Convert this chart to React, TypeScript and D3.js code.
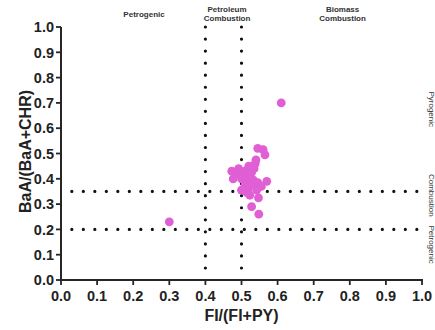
import React from "react";
import * as d3 from "d3";

const xTicks = [0, 0.1, 0.2, 0.3, 0.4, 0.5, 0.6, 0.7, 0.8, 0.9, 1.0];
const yTicks = [0, 0.1, 0.2, 0.3, 0.4, 0.5, 0.6, 0.7, 0.8, 0.9, 1.0];
const hLines = [0.2, 0.35];
const vLines = [0.4, 0.5];
const xFI = [0.30, 0.61, 0.545, 0.56, 0.565, 0.54, 0.538, 0.473, 0.492, 0.51, 0.528, 0.477, 0.50, 0.518, 0.533, 0.57, 0.51, 0.528, 0.50, 0.518, 0.542, 0.523, 0.547, 0.528, 0.548, 0.49, 0.52, 0.535, 0.505, 0.555, 0.545, 0.515];
const yBaA = [0.23, 0.70, 0.52, 0.515, 0.495, 0.475, 0.46, 0.43, 0.44, 0.43, 0.425, 0.40, 0.40, 0.40, 0.395, 0.39, 0.375, 0.375, 0.355, 0.355, 0.355, 0.335, 0.325, 0.29, 0.26, 0.42, 0.45, 0.44, 0.415, 0.37, 0.385, 0.345];
const topLabels = [
  { x: 0.23, lines: ["Petrogenic"] },
  { x: 0.46, lines: ["Petroleum", "Combustion"] },
  { x: 0.78, lines: ["Biomass", "Combustion"] },
];
const rightLabels = [
  { y: 0.675, text: "Pyrogenic" },
  { y: 0.335, text: "Combustion" },
  { y: 0.14, text: "Petrogenic" },
];

const W = 435, H = 330;
const x = d3.scaleLinear().domain([0, 1]).range([61, 422]);
const y = d3.scaleLinear().domain([0, 1]).range([280, 27]);
const font = "'Liberation Sans', Arial, sans-serif";
const axisColor = "#262626";

export default function App() {
  const pts = xFI.map((v, i) => ({ x: v, y: yBaA[i] }));
  return (
    <svg width={W} height={H} style={{ position: "absolute", left: 0, top: 0, background: "#fff" }} fontFamily={font}>
      {hLines.map((v) => (
        <line key={"h" + v} x1={x(0.03)} x2={x(1)} y1={y(v)} y2={y(v)} stroke="#111" strokeWidth={3.2} strokeLinecap="round" strokeDasharray="0 11.5" />
      ))}
      {vLines.map((v) => (
        <line key={"v" + v} x1={x(v)} x2={x(v)} y1={y(1)} y2={y(0.04)} stroke="#111" strokeWidth={3.2} strokeLinecap="round" strokeDasharray="0 12.05" />
      ))}
      {pts.map((p, i) => (
        <circle key={i} cx={x(p.x)} cy={y(p.y)} r={4.4} fill="#e05fd4" />
      ))}
      <line x1={x(0)} x2={x(0)} y1={y(1)} y2={y(0)} stroke={axisColor} strokeWidth={2} />
      <line x1={x(0) - 1} x2={x(1) + 1} y1={y(0)} y2={y(0)} stroke={axisColor} strokeWidth={2} />
      {yTicks.map((t) => (
        <g key={"yt" + t}>
          <line x1={x(0) - 5} x2={x(0)} y1={y(t)} y2={y(t)} stroke={axisColor} strokeWidth={1.8} />
          <text x={x(0) - 7} y={y(t)} dy="0.36em" textAnchor="end" fontSize={14.5} fontWeight="bold" fill="#222">{t.toFixed(1)}</text>
        </g>
      ))}
      {xTicks.map((t) => (
        <g key={"xt" + t}>
          <line x1={x(t)} x2={x(t)} y1={y(0)} y2={y(0) + 5} stroke={axisColor} strokeWidth={1.8} />
          <text x={x(t)} y={301} textAnchor="middle" fontSize={14.5} fontWeight="bold" fill="#222">{t.toFixed(1)}</text>
        </g>
      ))}
      <text x={(x(0) + x(1)) / 2} y={321} textAnchor="middle" fontSize={16} fontWeight="bold" fill="#222">FI/(FI+PY)</text>
      <text transform={`translate(31,${(y(0) + y(1)) / 2 - 2}) rotate(-90)`} textAnchor="middle" fontSize={16} fontWeight="bold" fill="#222">BaA/(BaA+CHR)</text>
      {topLabels.map((l) => (
        <text key={l.lines[0] + l.x} x={x(l.x)} y={l.lines.length === 1 ? 17 : 12} textAnchor="middle" fontSize={8} fill="#333" fontWeight="bold">
          {l.lines.map((s, i) => (
            <tspan key={i} x={x(l.x)} dy={i === 0 ? 0 : 9}>{s}</tspan>
          ))}
        </text>
      ))}
      {rightLabels.map((l) => (
        <text key={l.text} transform={`translate(428.5,${y(l.y)}) rotate(90)`} textAnchor="middle" fontSize={8} fill="#333">{l.text}</text>
      ))}
    </svg>
  );
}
